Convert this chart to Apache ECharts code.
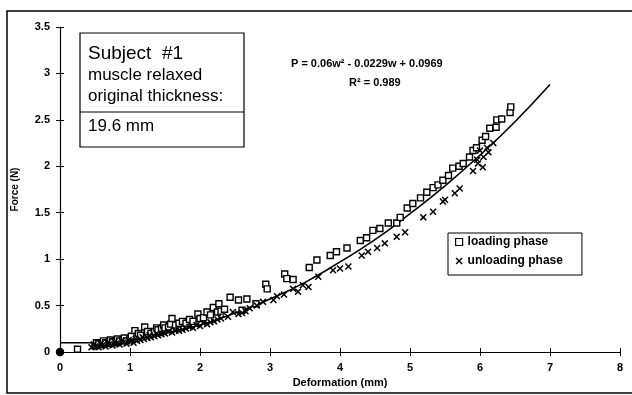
<!DOCTYPE html>
<html>
<head>
<meta charset="utf-8">
<script src="https://cdn.jsdelivr.net/npm/echarts@6/dist/echarts.min.js"></script>
<style>
  html, body { margin: 0; padding: 0; background: #fff; }
  #chart { width: 632px; height: 395px; }
</style>
</head>
<body>
<div id="chart"></div>
<script>
// loading phase (squares)
var loadingDeform = [0, 0.25, 0.5, 0.52, 0.55, 0.6, 0.62, 0.65, 0.7, 0.72, 0.75, 0.8, 0.82, 0.85, 0.9, 0.92, 0.95, 1.0, 1.02, 1.07, 1.1, 1.12, 1.15, 1.21, 1.25, 1.3, 1.35, 1.38, 1.4, 1.45, 1.48, 1.5, 1.55, 1.58, 1.6, 1.65, 1.7, 1.75, 1.8, 1.85, 1.9, 1.97, 2.0, 2.05, 2.1, 2.15, 2.19, 2.25, 2.27, 2.3, 2.35, 2.43, 2.55, 2.6, 2.67, 2.8, 2.94, 2.96, 3.21, 3.24, 3.33, 3.56, 3.67, 3.86, 3.95, 4.1, 4.29, 4.38, 4.47, 4.57, 4.69, 4.81, 4.86, 4.96, 5.04, 5.15, 5.24, 5.33, 5.4, 5.47, 5.55, 5.61, 5.7, 5.76, 5.85, 5.9, 5.95, 6.03, 6.08, 6.14, 6.23, 6.24, 6.31, 6.43, 6.44]
var loadingForce = [0, 0.03, 0.07, 0.1, 0.09, 0.08, 0.12, 0.1, 0.09, 0.13, 0.11, 0.1, 0.14, 0.12, 0.13, 0.15, 0.12, 0.14, 0.17, 0.23, 0.17, 0.2, 0.18, 0.27, 0.22, 0.2, 0.22, 0.26, 0.24, 0.25, 0.29, 0.26, 0.27, 0.3, 0.36, 0.29, 0.31, 0.33, 0.31, 0.35, 0.33, 0.41, 0.36, 0.37, 0.43, 0.4, 0.48, 0.43, 0.52, 0.44, 0.46, 0.59, 0.56, 0.45, 0.57, 0.52, 0.73, 0.68, 0.84, 0.79, 0.78, 0.91, 0.99, 1.04, 1.08, 1.12, 1.2, 1.23, 1.31, 1.33, 1.39, 1.39, 1.45, 1.55, 1.6, 1.66, 1.72, 1.77, 1.8, 1.85, 1.9, 1.98, 2.0, 2.03, 2.1, 2.17, 2.2, 2.28, 2.32, 2.41, 2.42, 2.5, 2.51, 2.58, 2.64]

// unloading phase (crosses)
var unloadingDeform = [0, 0.45, 0.48, 0.5, 0.55, 0.58, 0.6, 0.65, 0.68, 0.7, 0.75, 0.78, 0.8, 0.85, 0.88, 0.9, 0.95, 0.98, 1.0, 1.05, 1.08, 1.1, 1.15, 1.18, 1.2, 1.25, 1.28, 1.3, 1.35, 1.38, 1.4, 1.45, 1.48, 1.5, 1.55, 1.6, 1.65, 1.7, 1.75, 1.8, 1.85, 1.9, 1.95, 2.0, 2.05, 2.1, 2.15, 2.2, 2.25, 2.3, 2.4, 2.47, 2.55, 2.6, 2.65, 2.71, 2.81, 2.9, 3.05, 3.1, 3.2, 3.33, 3.4, 3.47, 3.55, 3.69, 3.9, 4.0, 4.12, 4.31, 4.4, 4.53, 4.64, 4.81, 4.93, 5.19, 5.33, 5.47, 5.5, 5.64, 5.71, 5.9, 5.96, 5.97, 6.0, 6.04, 6.05, 6.1, 6.12, 6.19]
var unloadingForce = [0, 0.05, 0.08, 0.06, 0.05, 0.09, 0.07, 0.06, 0.1, 0.08, 0.07, 0.11, 0.09, 0.08, 0.12, 0.1, 0.09, 0.13, 0.11, 0.1, 0.14, 0.12, 0.13, 0.16, 0.14, 0.15, 0.18, 0.16, 0.17, 0.2, 0.18, 0.19, 0.21, 0.2, 0.22, 0.21, 0.23, 0.23, 0.24, 0.25, 0.27, 0.26, 0.29, 0.28, 0.31, 0.3, 0.32, 0.33, 0.35, 0.36, 0.38, 0.43, 0.41, 0.42, 0.44, 0.47, 0.5, 0.54, 0.56, 0.6, 0.62, 0.68, 0.65, 0.72, 0.7, 0.81, 0.88, 0.9, 0.92, 1.04, 1.08, 1.12, 1.17, 1.24, 1.29, 1.45, 1.51, 1.62, 1.64, 1.71, 1.76, 1.95, 2.07, 2.03, 2.17, 1.99, 2.1, 2.2, 2.15, 2.25]

// fitted curve
var fitDeform = [0, 0.5, 1, 1.5, 2, 2.5, 3, 3.5, 4, 4.5, 5, 5.5, 6, 6.5, 7]
var fitForce = [0.1, 0.1, 0.13, 0.2, 0.29, 0.42, 0.57, 0.75, 0.97, 1.21, 1.49, 1.79, 2.12, 2.48, 2.88]

var xTicks = [0, 1, 2, 3, 4, 5, 6, 7, 8]
var yTicks = [0, 0.5, 1, 1.5, 2, 2.5, 3, 3.5]

var font = 'Liberation Sans, Arial, sans-serif'
var crossPath = 'path://M0 1.5L1.5 0L5 3.5L8.5 0L10 1.5L6.5 5L10 8.5L8.5 10L5 6.5L1.5 10L0 8.5L3.5 5Z'

function pairs (xs, ys) {
  return xs.map(function (x, i) {
    if (x === 0 && ys[i] === 0) {
      // the origin shows as a solid blob
      return { value: [x, ys[i]], symbol: 'circle', symbolSize: 7, itemStyle: { color: '#000', borderColor: '#000' } }
    }
    return [x, ys[i]]
  })
}

var chart = echarts.init(document.getElementById('chart'))

var axisCommon = {
  type: 'value',
  axisLine: { show: true, onZero: false, lineStyle: { color: '#000', width: 1.2 } },
  axisTick: { show: true, length: 4, lineStyle: { color: '#000', width: 1 } },
  splitLine: { show: false },
  axisLabel: { color: '#000', fontFamily: font, fontWeight: 'bold', fontSize: 11 }
}

chart.setOption({
  animation: false,
  backgroundColor: '#fff',
  grid: { left: 60, right: 12, top: 27, bottom: 43 },
  xAxis: [
    Object.assign({}, axisCommon, {
      min: 0, max: 8, interval: 1,
      name: 'Deformation (mm)',
      nameLocation: 'middle',
      nameGap: 25,
      nameTextStyle: { color: '#000', fontFamily: font, fontWeight: 'bold', fontSize: 11 },
      axisLabel: Object.assign({}, axisCommon.axisLabel, {
        margin: 10,
        formatter: function (v) { return xTicks.indexOf(v) >= 0 ? String(v) : '' }
      })
    }),
    {
      type: 'value', min: 0, max: 8, interval: 1, position: 'bottom',
      axisLine: { show: false },
      axisTick: { show: true, inside: true, length: 4, lineStyle: { color: '#000', width: 1 } },
      axisLabel: { show: false },
      splitLine: { show: false }
    }
  ],
  yAxis: [
    Object.assign({}, axisCommon, {
      min: 0, max: 3.5, interval: 0.5,
      name: 'Force (N)',
      nameLocation: 'middle',
      nameGap: 40,
      nameTextStyle: { color: '#000', fontFamily: font, fontWeight: 'bold', fontSize: 10 },
      axisLabel: Object.assign({}, axisCommon.axisLabel, {
        margin: 10,
        formatter: function (v) { return yTicks.indexOf(v) >= 0 ? String(v) : '' }
      })
    }),
    {
      type: 'value', min: 0, max: 3.5, interval: 0.5, position: 'left',
      axisLine: { show: false },
      axisTick: { show: true, inside: true, length: 4, lineStyle: { color: '#000', width: 1 } },
      axisLabel: { show: false },
      splitLine: { show: false }
    }
  ],
  legend: {
    orient: 'vertical',
    left: 448,
    top: 233,
    padding: [3, 19, 8, 7],
    itemGap: 7,
    itemWidth: 7,
    itemHeight: 7,
    borderColor: '#000',
    borderWidth: 1,
    backgroundColor: '#fff',
    textStyle: { color: '#000', fontFamily: font, fontWeight: 'bold', fontSize: 12 },
    data: [
      { name: 'loading phase', icon: 'rect', itemStyle: { color: '#fff', borderColor: '#000', borderWidth: 1.2 } },
      { name: 'unloading phase', icon: crossPath, itemStyle: { color: '#000', borderWidth: 0 } }
    ]
  },
  graphic: [
    // outer chart frame
    { type: 'rect', shape: { x: 7, y: 11, width: 640, height: 382 }, style: { fill: 'none', stroke: '#000', lineWidth: 1.5 }, z: -1 },
    // annotation box
    { type: 'rect', shape: { x: 80, y: 33, width: 164, height: 114 }, style: { fill: '#fff', stroke: '#000', lineWidth: 1.2 }, z: 10 },
    { type: 'text', left: 88, top: 44, z: 11, style: { text: 'Subject  #1', fill: '#000', font: '19px ' + font } },
    { type: 'text', left: 88, top: 67, z: 11, style: { text: 'muscle relaxed', fill: '#000', font: '17px ' + font } },
    { type: 'text', left: 88, top: 88, z: 11, style: { text: 'original thickness:', fill: '#000', font: '17px ' + font } },
    { type: 'line', shape: { x1: 80, y1: 112, x2: 244, y2: 112 }, style: { stroke: '#000', lineWidth: 1.2 }, z: 11 },
    { type: 'text', left: 88, top: 118, z: 11, style: { text: '19.6 mm', fill: '#000', font: '17px ' + font } },
    // regression equation
    { type: 'text', left: 291, top: 58, z: 11, style: { text: 'P = 0.06w² - 0.0229w + 0.0969', fill: '#000', font: 'bold 11px ' + font } },
    { type: 'text', left: 349, top: 77, z: 11, style: { text: 'R² = 0.989', fill: '#000', font: 'bold 11px ' + font } }
  ],
  series: [
    {
      name: 'loading phase',
      type: 'scatter',
      symbol: 'rect',
      symbolSize: 6,
      itemStyle: { color: '#fff', borderColor: '#000', borderWidth: 1.4, opacity: 1 },
      data: pairs(loadingDeform, loadingForce),
      z: 3
    },
    {
      name: 'unloading phase',
      type: 'scatter',
      symbol: crossPath,
      symbolSize: 7,
      itemStyle: { color: '#000', opacity: 1 },
      data: pairs(unloadingDeform, unloadingForce),
      z: 4
    },
    {
      name: 'fit',
      type: 'line',
      smooth: true,
      showSymbol: false,
      lineStyle: { color: '#000', width: 1.6 },
      data: pairs(fitDeform, fitForce),
      z: 2
    }
  ]
})
</script>
</body>
</html>
